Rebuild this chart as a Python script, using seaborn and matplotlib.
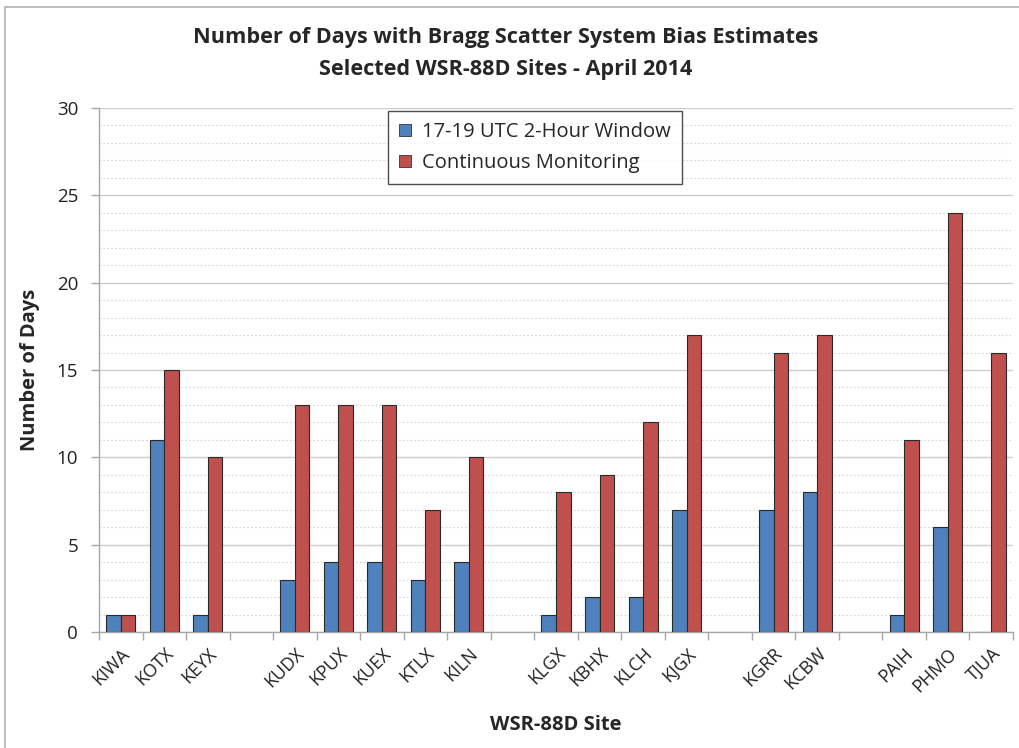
import numpy as np
import pandas as pd
import matplotlib
matplotlib.use("Agg")
import matplotlib.pyplot as plt
from matplotlib.lines import Line2D
from matplotlib.ticker import MultipleLocator, FixedLocator
import seaborn as sns

# Radar sites, grouped by region; empty slots separate the groups
site_groups = [
    ["KIWA", "KOTX", "KEYX"],
    ["KUDX", "KPUX", "KUEX", "KTLX", "KILN"],
    ["KLGX", "KBHX", "KLCH", "KJGX"],
    ["KGRR", "KCBW"],
    ["PAIH", "PHMO", "TJUA"],
]
window_days = [1, 11, 1, 3, 4, 4, 3, 4, 1, 2, 2, 7, 7, 8, 1, 6, 0]
continuous_days = [1, 15, 10, 13, 13, 13, 7, 10, 8, 9, 12, 17, 16, 17, 11, 24, 16]
series_names = ["17-19 UTC 2-Hour Window", "Continuous Monitoring"]
colors = ["#4F81BD", "#C0504D"]

sites = [s for g in site_groups for s in g]
order = []
for i, g in enumerate(site_groups):
    order += g
    if i < len(site_groups) - 1:
        order.append(" " * (i + 1))

df = pd.DataFrame({
    "site": sites * 2,
    "days": window_days + continuous_days,
    "series": [series_names[0]] * len(sites) + [series_names[1]] * len(sites),
})

sns.set_theme(style="white")
plt.rcParams["font.family"] = ["Open Sans", "DejaVu Sans"]

fig = plt.figure(figsize=(10.19, 7.48), dpi=100)
ax = fig.add_axes([99 / 1019, 1 - 632 / 748, (1013 - 99) / 1019, (632 - 108) / 748])

sns.barplot(data=df, x="site", y="days", hue="series", order=order,
            hue_order=series_names, palette=colors, width=0.667,
            edgecolor="#2a2a2a", linewidth=0.8, saturation=1, ax=ax,
            legend=True, zorder=3)

ax.set_xlim(-0.5, len(order) - 0.5)
ax.set_ylim(0, 30)
ax.yaxis.set_major_locator(MultipleLocator(5))
ax.yaxis.set_minor_locator(MultipleLocator(1))
ax.grid(which="major", axis="y", color="#cccccc", linewidth=1.0, zorder=0)
ax.grid(which="minor", axis="y", color="#d4d4d4", linewidth=0.8,
        linestyle=(0, (1.5, 2)), zorder=0)
ax.set_axisbelow(True)

for side in ["top", "right"]:
    ax.spines[side].set_visible(False)
for side in ["left", "bottom"]:
    ax.spines[side].set_color("#a6a6a6")
    ax.spines[side].set_linewidth(1.0)

ax.tick_params(axis="y", which="major", length=6, color="#a6a6a6", width=1,
               labelsize=13.5, labelcolor="#222222", pad=9, left=True)
ax.tick_params(axis="y", which="minor", length=0)
ax.set_xticks(range(len(order)))
ax.set_xticklabels(order, rotation=45, ha="right", rotation_mode="anchor",
                   fontsize=13, color="#222222")
ax.tick_params(axis="x", which="major", length=0, pad=9)
ax.xaxis.set_minor_locator(FixedLocator(np.arange(-0.5, len(order), 1.0)))
ax.tick_params(axis="x", which="minor", length=6, color="#a6a6a6", width=1,
               bottom=True)

ax.set_xlabel("WSR-88D Site", fontsize=14.5, fontweight="bold", labelpad=14)
ax.set_ylabel("Number of Days", fontsize=14.5, fontweight="bold", labelpad=12)

fig.text(0.496, 1 - 38 / 748, "Number of Days with Bragg Scatter System Bias Estimates",
         ha="center", va="center", fontsize=15.6, fontweight="bold")
fig.text(0.496, 1 - 70 / 748, "Selected WSR-88D Sites - April 2014",
         ha="center", va="center", fontsize=15.6, fontweight="bold")

handles = [plt.Rectangle((0, 0), 1, 1, facecolor=c, edgecolor="#333333", linewidth=0.6)
           for c in colors]
leg = ax.legend(handles, series_names, loc="upper left",
                bbox_to_anchor=((388 - 99) / 914, 1 - (111 - 108) / 524),
                frameon=True, fancybox=False, fontsize=14.5, handlelength=0.6,
                handleheight=0.6, handletextpad=0.55, borderpad=0.55,
                labelspacing=0.55, borderaxespad=0)
leg.get_frame().set_edgecolor("#222222")
leg.get_frame().set_linewidth(1.0)

# Thin frame lines along the top and left of the figure
fig.add_artist(Line2D([5 / 1019, 5 / 1019], [0, 1 - 7 / 748], transform=fig.transFigure,
                      color="#b0b0b0", linewidth=1.2))
fig.add_artist(Line2D([5 / 1019, 1], [1 - 7 / 748, 1 - 7 / 748], transform=fig.transFigure,
                      color="#b0b0b0", linewidth=1.2))

fig.savefig("out.png", dpi=100)
